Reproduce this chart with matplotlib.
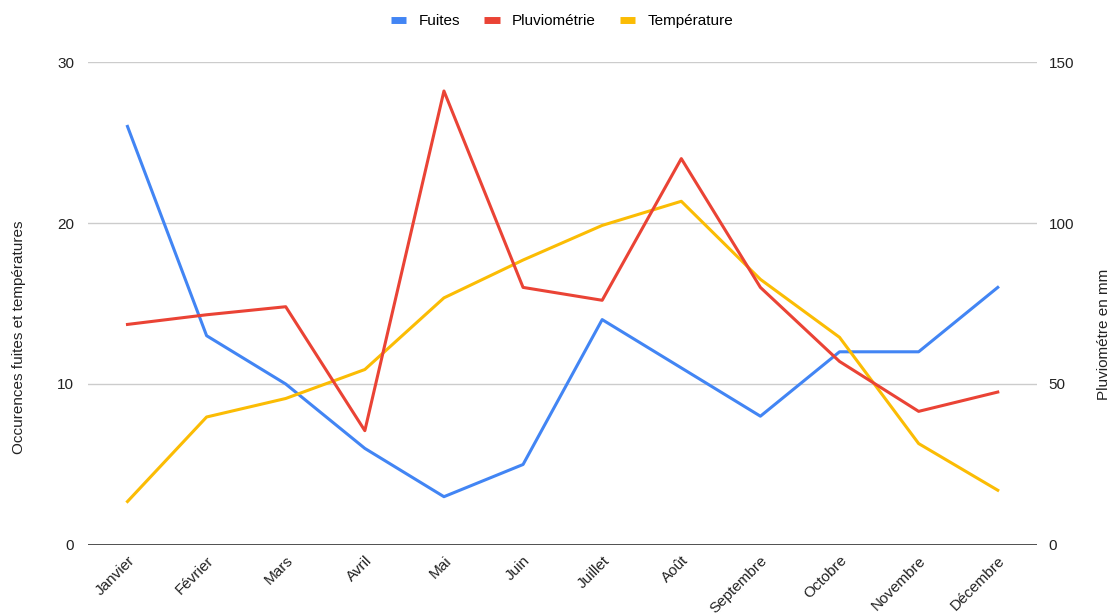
import numpy as np
import matplotlib.pyplot as plt
from matplotlib.lines import Line2D

plt.rcParams['font.family'] = ['Liberation Sans', 'DejaVu Sans']

mois = ['Janvier', 'Février', 'Mars', 'Avril', 'Mai', 'Juin', 'Juillet',
        'Août', 'Septembre', 'Octobre', 'Novembre', 'Décembre']
fuites = [26, 13, 10, 6, 3, 5, 14, 11, 8, 12, 12, 16]
pluvio = [68.5, 71.5, 74, 35.5, 141, 80, 76, 120, 80, 57, 41.5, 47.5]
temperature = [2.7, 7.95, 9.1, 10.9, 15.35, 17.7, 19.85, 21.35, 16.5, 12.9, 6.3, 3.4]

bleu = '#4285f4'
rouge = '#ea4335'
jaune = '#fbbc04'

fig = plt.figure(figsize=(11.13, 6.14), dpi=100)
ax = fig.add_axes([0.079, 0.1124, 0.853, 0.7866])
ax2 = ax.twinx()

x = np.arange(len(mois))
ax.plot(x, fuites, color=bleu, lw=2.2, zorder=3)
ax.plot(x, temperature, color=jaune, lw=2.2, zorder=3)
ax2.plot(x, pluvio, color=rouge, lw=2.2, zorder=3)

ax.set_xlim(-0.5, 11.5)
ax.set_ylim(0, 30)
ax2.set_ylim(0, 150)
ax.set_yticks([0, 10, 20, 30])
ax2.set_yticks([0, 50, 100, 150])
ax.grid(axis='y', color='#cccccc', lw=1)
ax.set_axisbelow(True)

for a in (ax, ax2):
    for s in a.spines.values():
        s.set_visible(False)
    a.tick_params(length=0, labelsize=11, colors='#222222')
ax.axhline(0, color='#333333', lw=1.2, zorder=4)

ax.tick_params(axis='y', pad=10)
ax2.tick_params(axis='y', pad=8)
ax.set_xticks(x)
ax.set_xticklabels(mois, rotation=45, ha='right', rotation_mode='anchor', fontsize=11)
ax.tick_params(axis='x', pad=6)

fig.text(0.017, 0.45, 'Occurences fuites et températures', rotation=90,
         va='center', ha='center', fontsize=11, color='#222222')
fig.text(0.992, 0.455, 'Pluviométre en mm', rotation=90,
         va='center', ha='center', fontsize=11, color='#222222')

handles = [Line2D([], [], color=c, lw=5, solid_capstyle='butt')
           for c in (bleu, rouge, jaune)]
fig.legend(handles, ['Fuites', 'Pluviométrie', 'Température'], loc='center',
           bbox_to_anchor=(0.505, 0.965), ncol=3, frameon=False, fontsize=11,
           handlelength=1.0, columnspacing=1.6, handletextpad=0.8)

fig.savefig('out.png', dpi=100)
